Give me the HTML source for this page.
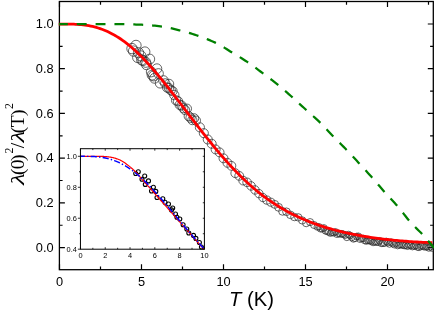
<!DOCTYPE html>
<html><head><meta charset="utf-8"><title>plot</title>
<style>
html,body{margin:0;padding:0;background:#fff;}
body{width:436px;height:312px;overflow:hidden;}
svg{display:block;will-change:transform;}
text{font-family:"Liberation Sans",sans-serif;fill:#000;}
.ser{font-family:"Liberation Serif",serif;}
</style></head><body>
<svg width="436" height="312" viewBox="0 0 436 312">
<rect width="436" height="312" fill="#fff"/>

<defs><clipPath id="cm"><rect x="58.75" y="1.5" width="375.20000000000005" height="268.2"/></clipPath><clipPath id="ci"><rect x="80.45" y="148.7" width="123.95" height="100.5"/></clipPath></defs>
<rect x="59.4" y="1.5" width="373.90000000000003" height="268.2" fill="none" stroke="#000" stroke-width="1.3"/>
<path d="M59.50,269.7 v-5.5 M59.50,1.5 v5.5 M100.50,269.7 v-3.2 M100.50,1.5 v3.2 M141.50,269.7 v-5.5 M141.50,1.5 v5.5 M182.50,269.7 v-3.2 M182.50,1.5 v3.2 M223.50,269.7 v-5.5 M223.50,1.5 v5.5 M264.50,269.7 v-3.2 M264.50,1.5 v3.2 M305.50,269.7 v-5.5 M305.50,1.5 v5.5 M346.50,269.7 v-3.2 M346.50,1.5 v3.2 M387.50,269.7 v-5.5 M387.50,1.5 v5.5 M428.50,269.7 v-3.2 M428.50,1.5 v3.2 M59.4,247.60 h5.5 M433.3,247.60 h-5.5 M59.4,225.24 h3.2 M433.3,225.24 h-3.2 M59.4,202.88 h5.5 M433.3,202.88 h-5.5 M59.4,180.52 h3.2 M433.3,180.52 h-3.2 M59.4,158.16 h5.5 M433.3,158.16 h-5.5 M59.4,135.80 h3.2 M433.3,135.80 h-3.2 M59.4,113.44 h5.5 M433.3,113.44 h-5.5 M59.4,91.08 h3.2 M433.3,91.08 h-3.2 M59.4,68.72 h5.5 M433.3,68.72 h-5.5 M59.4,46.36 h3.2 M433.3,46.36 h-3.2 M59.4,24.00 h5.5 M433.3,24.00 h-5.5" stroke="#000" stroke-width="1.2" fill="none"/>
<g fill="none" stroke="#2a2a2a" stroke-width="0.72" clip-path="url(#cm)">
<circle cx="136.00" cy="45.40" r="5.15"/>
<circle cx="132.00" cy="48.60" r="5.20"/>
<circle cx="144.90" cy="51.90" r="5.04"/>
<circle cx="138.50" cy="52.70" r="5.12"/>
<circle cx="140.90" cy="55.90" r="5.09"/>
<circle cx="149.70" cy="59.10" r="4.98"/>
<circle cx="143.00" cy="60.50" r="5.06"/>
<circle cx="146.50" cy="64.70" r="5.02"/>
<circle cx="156.90" cy="68.70" r="4.89"/>
<circle cx="151.30" cy="71.90" r="4.96"/>
<circle cx="158.50" cy="73.50" r="4.87"/>
<circle cx="153.50" cy="76.00" r="4.93"/>
<circle cx="160.10" cy="83.20" r="4.85"/>
<circle cx="169.00" cy="84.00" r="4.74"/>
<circle cx="133.60" cy="51.10" r="5.18"/>
<circle cx="137.70" cy="57.50" r="5.13"/>
<circle cx="141.70" cy="59.90" r="5.08"/>
<circle cx="145.70" cy="62.30" r="5.03"/>
<circle cx="152.10" cy="75.10" r="4.95"/>
<circle cx="154.50" cy="78.30" r="4.92"/>
<circle cx="163.50" cy="80.50" r="4.81"/>
<circle cx="165.28" cy="83.41" r="4.70"/>
<circle cx="167.08" cy="87.51" r="4.69"/>
<circle cx="168.89" cy="88.06" r="4.68"/>
<circle cx="170.69" cy="90.17" r="4.68"/>
<circle cx="172.50" cy="91.10" r="4.67"/>
<circle cx="174.30" cy="95.07" r="4.66"/>
<circle cx="176.10" cy="100.35" r="4.66"/>
<circle cx="177.91" cy="101.17" r="4.65"/>
<circle cx="179.71" cy="104.83" r="4.64"/>
<circle cx="181.52" cy="105.49" r="4.63"/>
<circle cx="183.32" cy="108.16" r="4.63"/>
<circle cx="185.12" cy="110.08" r="4.62"/>
<circle cx="186.93" cy="108.69" r="4.61"/>
<circle cx="188.73" cy="116.15" r="4.61"/>
<circle cx="190.54" cy="117.80" r="4.60"/>
<circle cx="192.34" cy="120.13" r="4.59"/>
<circle cx="194.14" cy="118.30" r="4.58"/>
<circle cx="195.95" cy="120.60" r="4.58"/>
<circle cx="199.88" cy="127.35" r="4.56"/>
<circle cx="203.82" cy="133.18" r="4.54"/>
<circle cx="207.76" cy="139.47" r="4.53"/>
<circle cx="211.69" cy="143.77" r="4.51"/>
<circle cx="215.63" cy="149.43" r="4.50"/>
<circle cx="219.56" cy="152.36" r="4.48"/>
<circle cx="223.50" cy="158.32" r="4.47"/>
<circle cx="227.44" cy="162.85" r="4.45"/>
<circle cx="231.37" cy="165.83" r="4.43"/>
<circle cx="235.31" cy="173.18" r="4.42"/>
<circle cx="239.24" cy="175.87" r="4.40"/>
<circle cx="243.18" cy="180.65" r="4.36"/>
<circle cx="247.12" cy="182.35" r="4.31"/>
<circle cx="251.05" cy="185.93" r="4.27"/>
<circle cx="254.99" cy="189.95" r="4.22"/>
<circle cx="258.92" cy="193.60" r="4.17"/>
<circle cx="262.86" cy="197.54" r="4.13"/>
<circle cx="266.80" cy="200.09" r="4.08"/>
<circle cx="270.73" cy="202.19" r="4.03"/>
<circle cx="274.67" cy="204.37" r="3.98"/>
<circle cx="278.60" cy="207.33" r="3.94"/>
<circle cx="282.54" cy="211.35" r="3.89"/>
<circle cx="286.48" cy="211.77" r="3.84"/>
<circle cx="290.41" cy="214.85" r="3.80"/>
<circle cx="294.35" cy="217.03" r="3.75"/>
<circle cx="298.28" cy="217.38" r="3.70"/>
<circle cx="302.22" cy="220.44" r="3.65"/>
<circle cx="306.16" cy="223.16" r="3.61"/>
<circle cx="310.09" cy="222.12" r="3.56"/>
<circle cx="314.03" cy="225.00" r="3.51"/>
<circle cx="317.31" cy="226.96" r="3.30"/>
<circle cx="318.95" cy="226.80" r="3.30"/>
<circle cx="320.59" cy="228.83" r="3.30"/>
<circle cx="322.23" cy="228.81" r="3.30"/>
<circle cx="323.87" cy="227.89" r="3.30"/>
<circle cx="325.51" cy="230.89" r="3.30"/>
<circle cx="327.15" cy="231.27" r="3.30"/>
<circle cx="328.79" cy="232.09" r="3.30"/>
<circle cx="330.43" cy="233.12" r="3.30"/>
<circle cx="332.07" cy="232.51" r="3.30"/>
<circle cx="333.71" cy="232.76" r="3.30"/>
<circle cx="335.35" cy="231.80" r="3.30"/>
<circle cx="336.99" cy="234.23" r="3.30"/>
<circle cx="338.63" cy="233.46" r="3.30"/>
<circle cx="340.27" cy="234.07" r="3.30"/>
<circle cx="341.91" cy="233.68" r="3.30"/>
<circle cx="343.55" cy="234.39" r="3.30"/>
<circle cx="345.19" cy="235.21" r="3.30"/>
<circle cx="346.83" cy="237.36" r="3.30"/>
<circle cx="348.47" cy="234.54" r="3.30"/>
<circle cx="350.11" cy="235.47" r="3.30"/>
<circle cx="351.75" cy="237.44" r="3.30"/>
<circle cx="353.39" cy="238.91" r="3.30"/>
<circle cx="355.03" cy="238.44" r="3.30"/>
<circle cx="356.67" cy="236.47" r="3.30"/>
<circle cx="358.31" cy="236.24" r="3.30"/>
<circle cx="359.95" cy="239.19" r="3.30"/>
<circle cx="361.59" cy="238.51" r="3.30"/>
<circle cx="363.23" cy="238.47" r="3.30"/>
<circle cx="364.87" cy="240.63" r="3.30"/>
<circle cx="366.51" cy="241.02" r="3.30"/>
<circle cx="368.15" cy="240.46" r="3.30"/>
<circle cx="369.79" cy="240.81" r="3.30"/>
<circle cx="371.43" cy="241.23" r="3.30"/>
<circle cx="373.07" cy="242.47" r="3.30"/>
<circle cx="374.71" cy="241.89" r="3.30"/>
<circle cx="376.35" cy="242.04" r="3.30"/>
<circle cx="377.99" cy="242.30" r="3.30"/>
<circle cx="379.63" cy="240.79" r="3.30"/>
<circle cx="381.27" cy="243.35" r="3.30"/>
<circle cx="382.91" cy="243.29" r="3.30"/>
<circle cx="384.55" cy="243.16" r="3.30"/>
<circle cx="386.19" cy="241.38" r="3.30"/>
<circle cx="387.83" cy="242.65" r="3.30"/>
<circle cx="389.47" cy="244.00" r="3.30"/>
<circle cx="391.11" cy="242.15" r="3.30"/>
<circle cx="392.75" cy="243.62" r="3.30"/>
<circle cx="394.39" cy="244.74" r="3.30"/>
<circle cx="396.03" cy="243.19" r="3.30"/>
<circle cx="397.67" cy="245.56" r="3.30"/>
<circle cx="399.31" cy="244.96" r="3.30"/>
<circle cx="400.95" cy="244.63" r="3.30"/>
<circle cx="402.59" cy="245.16" r="3.30"/>
<circle cx="404.23" cy="245.56" r="3.30"/>
<circle cx="405.87" cy="245.36" r="3.30"/>
<circle cx="407.51" cy="246.24" r="3.30"/>
<circle cx="409.15" cy="245.14" r="3.30"/>
<circle cx="410.79" cy="245.47" r="3.30"/>
<circle cx="412.43" cy="246.61" r="3.30"/>
<circle cx="414.07" cy="246.07" r="3.30"/>
<circle cx="415.71" cy="245.61" r="3.30"/>
<circle cx="417.35" cy="246.95" r="3.30"/>
<circle cx="418.99" cy="247.41" r="3.30"/>
<circle cx="420.63" cy="246.30" r="3.30"/>
<circle cx="422.27" cy="245.83" r="3.30"/>
<circle cx="423.91" cy="246.74" r="3.30"/>
<circle cx="425.55" cy="246.84" r="3.30"/>
<circle cx="427.19" cy="246.85" r="3.30"/>
<circle cx="428.83" cy="247.99" r="3.30"/>
<circle cx="430.47" cy="246.62" r="3.30"/>
<circle cx="432.11" cy="248.08" r="3.30"/>
</g>
<path d="M58.75,24.03 L60.63,24.04 L62.50,24.04 L64.38,24.04 L66.26,24.05 L68.14,24.07 L70.01,24.10 L71.89,24.14 L73.77,24.20 L75.64,24.28 L77.52,24.39 L79.40,24.52 L81.28,24.69 L83.15,24.89 L85.03,25.13 L86.91,25.40 L88.78,25.72 L90.66,26.08 L92.54,26.48 L94.42,26.94 L96.29,27.44 L98.17,27.99 L100.05,28.60 L101.92,29.26 L103.80,29.97 L105.68,30.74 L107.56,31.57 L109.43,32.46 L111.31,33.40 L113.19,34.40 L115.06,35.47 L116.94,36.59 L118.82,37.77 L120.70,39.02 L122.57,40.32 L124.45,41.69 L126.33,43.11 L128.20,44.59 L130.08,46.13 L131.96,47.73 L133.84,49.38 L135.71,51.09 L137.59,52.86 L139.47,54.68 L141.34,56.54 L143.22,58.46 L145.10,60.43 L146.98,62.44 L148.85,64.50 L150.73,66.60 L152.61,68.74 L154.48,70.91 L156.36,73.12 L158.24,75.37 L160.12,77.64 L161.99,79.94 L163.87,82.26 L165.75,84.61 L167.62,86.98 L169.50,89.37 L171.38,91.78 L173.26,94.20 L175.13,96.63 L177.01,99.07 L178.89,101.52 L180.76,103.98 L182.64,106.44 L184.52,108.91 L186.40,111.37 L188.27,113.84 L190.15,116.30 L192.03,118.76 L193.90,121.21 L195.78,123.65 L197.66,126.09 L199.54,128.51 L201.41,130.92 L203.29,133.32 L205.17,135.70 L207.04,138.06 L208.92,140.41 L210.80,142.74 L212.68,145.04 L214.55,147.33 L216.43,149.59 L218.31,151.83 L220.18,154.04 L222.06,156.22 L223.94,158.38 L225.82,160.51 L227.69,162.61 L229.57,164.68 L231.45,166.71 L233.32,168.72 L235.20,170.69 L237.08,172.62 L238.96,174.53 L240.83,176.40 L242.71,178.23 L244.59,180.03 L246.46,181.79 L248.34,183.51 L250.22,185.20 L252.09,186.86 L253.97,188.47 L255.85,190.05 L257.73,191.60 L259.60,193.11 L261.48,194.58 L263.36,196.02 L265.23,197.42 L267.11,198.78 L268.99,200.12 L270.87,201.42 L272.74,202.68 L274.62,203.92 L276.50,205.12 L278.37,206.29 L280.25,207.44 L282.13,208.55 L284.01,209.63 L285.88,210.69 L287.76,211.71 L289.64,212.71 L291.51,213.69 L293.39,214.63 L295.27,215.55 L297.15,216.45 L299.02,217.32 L300.90,218.17 L302.78,219.00 L304.65,219.80 L306.53,220.58 L308.41,221.34 L310.29,222.08 L312.16,222.80 L314.04,223.50 L315.92,224.18 L317.79,224.84 L319.67,225.48 L321.55,226.10 L323.43,226.70 L325.30,227.29 L327.18,227.86 L329.06,228.42 L330.93,228.96 L332.81,229.48 L334.69,229.99 L336.57,230.49 L338.44,230.97 L340.32,231.43 L342.20,231.89 L344.07,232.33 L345.95,232.75 L347.83,233.17 L349.71,233.57 L351.58,233.96 L353.46,234.34 L355.34,234.71 L357.21,235.06 L359.09,235.41 L360.97,235.75 L362.85,236.07 L364.72,236.39 L366.60,236.70 L368.48,236.99 L370.35,237.28 L372.23,237.56 L374.11,237.83 L375.99,238.09 L377.86,238.35 L379.74,238.60 L381.62,238.83 L383.49,239.06 L385.37,239.29 L387.25,239.50 L389.13,239.71 L391.00,239.91 L392.88,240.10 L394.76,240.29 L396.63,240.47 L398.51,240.64 L400.39,240.81 L402.27,240.97 L404.14,241.12 L406.02,241.27 L407.90,241.41 L409.77,241.54 L411.65,241.67 L413.53,241.79 L415.41,241.90 L417.28,242.01 L419.16,242.11 L421.04,242.20 L422.91,242.29 L424.79,242.37 L426.67,242.44 L428.55,242.51 L430.42,242.57 L432.30,242.62" fill="none" stroke="#ff0000" stroke-width="2.8" stroke-linejoin="round"/>
<path d="M58.75,24.00 L60.64,24.00 L62.52,24.00 L64.41,24.00 L66.29,24.00 L68.18,24.00 L70.06,24.00 L71.95,24.00 L73.83,24.00 L75.72,24.00 L77.60,24.00 L79.49,24.00 L81.37,24.00 L83.26,24.00 L85.14,24.00 L87.03,24.00 L88.91,24.00 L90.80,24.00 L92.68,24.00 L94.57,24.00 L96.45,24.00 L98.34,24.00 L100.22,24.00 L102.11,24.00 L103.99,24.01 L105.88,24.02 L107.76,24.03 L109.65,24.05 L111.53,24.07 L113.42,24.09 L115.31,24.12 L117.19,24.14 L119.08,24.17 L120.96,24.20 L122.85,24.22 L124.73,24.25 L126.62,24.28 L128.50,24.32 L130.39,24.36 L132.27,24.40 L134.16,24.45 L136.04,24.51 L137.93,24.57 L139.81,24.63 L141.70,24.71 L143.58,24.79 L145.47,24.89 L147.35,25.01 L149.24,25.16 L151.12,25.32 L153.01,25.51 L154.89,25.71 L156.78,25.92 L158.66,26.14 L160.55,26.38 L162.43,26.63 L164.32,26.92 L166.21,27.25 L168.09,27.62 L169.98,28.02 L171.86,28.44 L173.75,28.89 L175.63,29.35 L177.52,29.82 L179.40,30.29 L181.29,30.76 L183.17,31.26 L185.06,31.77 L186.94,32.31 L188.83,32.87 L190.71,33.45 L192.60,34.04 L194.48,34.65 L196.37,35.28 L198.25,35.92 L200.14,36.58 L202.02,37.25 L203.91,37.94 L205.79,38.66 L207.68,39.39 L209.56,40.16 L211.45,40.95 L213.33,41.78 L215.22,42.64 L217.10,43.55 L218.99,44.53 L220.88,45.59 L222.76,46.71 L224.65,47.87 L226.53,49.06 L228.42,50.25 L230.30,51.42 L232.19,52.57 L234.07,53.70 L235.96,54.83 L237.84,55.97 L239.73,57.12 L241.61,58.28 L243.50,59.47 L245.38,60.68 L247.27,61.93 L249.15,63.22 L251.04,64.54 L252.92,65.89 L254.81,67.27 L256.69,68.66 L258.58,70.07 L260.46,71.48 L262.35,72.89 L264.23,74.29 L266.12,75.70 L268.00,77.12 L269.89,78.54 L271.77,79.98 L273.66,81.44 L275.55,82.93 L277.43,84.44 L279.32,85.99 L281.20,87.57 L283.09,89.18 L284.97,90.81 L286.86,92.45 L288.74,94.11 L290.63,95.78 L292.51,97.45 L294.40,99.14 L296.28,100.85 L298.17,102.58 L300.05,104.31 L301.94,106.05 L303.82,107.78 L305.71,109.51 L307.59,111.21 L309.48,112.90 L311.36,114.57 L313.25,116.24 L315.13,117.94 L317.02,119.66 L318.90,121.44 L320.79,123.28 L322.67,125.21 L324.56,127.20 L326.44,129.23 L328.33,131.28 L330.22,133.32 L332.10,135.32 L333.99,137.26 L335.87,139.15 L337.76,141.02 L339.64,142.88 L341.53,144.74 L343.41,146.61 L345.30,148.52 L347.18,150.47 L349.07,152.46 L350.95,154.47 L352.84,156.50 L354.72,158.55 L356.61,160.60 L358.49,162.66 L360.38,164.70 L362.26,166.75 L364.15,168.79 L366.03,170.84 L367.92,172.91 L369.80,174.99 L371.69,177.09 L373.57,179.22 L375.46,181.39 L377.34,183.60 L379.23,185.82 L381.12,188.03 L383.00,190.22 L384.89,192.37 L386.77,194.47 L388.66,196.51 L390.54,198.53 L392.43,200.54 L394.31,202.58 L396.20,204.66 L398.08,206.80 L399.97,209.06 L401.85,211.43 L403.74,213.86 L405.62,216.30 L407.51,218.68 L409.39,220.96 L411.28,223.08 L413.16,225.08 L415.05,226.99 L416.93,228.84 L418.82,230.69 L420.70,232.56 L422.59,234.51 L424.47,236.56 L426.36,238.70 L428.24,240.91 L430.13,243.19 L432.01,245.52 L433.90,247.90" clip-path="url(#cm)" fill="none" stroke="#008000" stroke-width="2.25" stroke-dasharray="9.9 8.95" stroke-dashoffset="0.85"/>
<text x="59.5" y="285.8" font-size="12.8" text-anchor="middle">0</text>
<text x="141.5" y="285.8" font-size="12.8" text-anchor="middle">5</text>
<text x="223.5" y="285.8" font-size="12.8" text-anchor="middle">10</text>
<text x="305.5" y="285.8" font-size="12.8" text-anchor="middle">15</text>
<text x="387.5" y="285.8" font-size="12.8" text-anchor="middle">20</text>
<text x="53.6" y="251.7" font-size="12.8" text-anchor="end">0.0</text>
<text x="53.6" y="207.0" font-size="12.8" text-anchor="end">0.2</text>
<text x="53.6" y="162.3" font-size="12.8" text-anchor="end">0.4</text>
<text x="53.6" y="117.5" font-size="12.8" text-anchor="end">0.6</text>
<text x="53.6" y="72.8" font-size="12.8" text-anchor="end">0.8</text>
<text x="53.6" y="28.1" font-size="12.8" text-anchor="end">1.0</text>
<text x="229" y="306.3" font-size="20.2"><tspan font-style="italic">T</tspan> (K)</text>
<g class="ser" transform="translate(24,186.5) rotate(-90)" font-size="19.5">
<text class="ser" transform="translate(1.4,0) scale(1.4,1)" font-style="italic" x="0" y="0">&#955;</text>
<text class="ser" x="11.4" y="0">(</text>
<text class="ser" x="17.2" y="0">0</text>
<text class="ser" x="25.6" y="0">)</text>
<text class="ser" x="38.3" y="0">/</text>
<text class="ser" x="53.2" y="0">(</text>
<text class="ser" x="59.15" y="0">T</text>
<text class="ser" x="70.5" y="0">)</text>
<text class="ser" transform="translate(44.0,0) scale(1.4,1)" font-style="italic" x="0" y="0">&#955;</text>
<text class="ser" x="33.0" y="-11" font-size="11.8">2</text><text class="ser" x="77.5" y="-11" font-size="11.8">2</text>
</g>
<rect x="80.45" y="148.7" width="123.95" height="100.5" fill="#fff"/>
<g fill="none" stroke="#000" stroke-width="1.1">
<circle cx="138.30" cy="171.80" r="2.0"/>
<circle cx="135.70" cy="173.50" r="2.0"/>
<circle cx="144.70" cy="176.00" r="2.0"/>
<circle cx="142.00" cy="179.20" r="2.0"/>
<circle cx="148.50" cy="180.90" r="2.0"/>
<circle cx="145.30" cy="184.40" r="2.0"/>
<circle cx="153.40" cy="187.30" r="2.0"/>
<circle cx="151.50" cy="191.00" r="2.0"/>
<circle cx="155.80" cy="191.40" r="2.0"/>
<circle cx="157.00" cy="197.50" r="2.0"/>
<circle cx="162.80" cy="198.80" r="2.0"/>
<circle cx="165.00" cy="202.20" r="2.0"/>
<circle cx="168.50" cy="204.00" r="2.0"/>
<circle cx="172.70" cy="208.00" r="2.0"/>
<circle cx="171.50" cy="209.90" r="2.0"/>
<circle cx="175.50" cy="214.00" r="2.0"/>
<circle cx="176.90" cy="217.30" r="2.0"/>
<circle cx="179.80" cy="219.00" r="2.0"/>
<circle cx="183.10" cy="224.70" r="2.0"/>
<circle cx="186.80" cy="229.00" r="2.0"/>
<circle cx="188.80" cy="233.00" r="2.0"/>
<circle cx="193.50" cy="235.40" r="2.0"/>
<circle cx="195.90" cy="238.40" r="2.0"/>
<circle cx="199.40" cy="242.50" r="2.0"/>
<circle cx="201.40" cy="247.00" r="2.0"/>
</g>
<g clip-path="url(#ci)"><path d="M80.45,156.30 L81.08,156.30 L81.71,156.30 L82.34,156.30 L82.96,156.30 L83.59,156.30 L84.22,156.30 L84.85,156.30 L85.48,156.30 L86.11,156.30 L86.73,156.30 L87.36,156.30 L87.99,156.30 L88.62,156.30 L89.25,156.30 L89.88,156.30 L90.50,156.30 L91.13,156.30 L91.76,156.30 L92.39,156.30 L93.02,156.30 L93.65,156.30 L94.27,156.30 L94.90,156.30 L95.53,156.30 L96.16,156.30 L96.79,156.31 L97.42,156.31 L98.04,156.32 L98.67,156.33 L99.30,156.34 L99.93,156.35 L100.56,156.36 L101.19,156.37 L101.82,156.39 L102.44,156.41 L103.07,156.43 L103.70,156.46 L104.33,156.49 L104.96,156.52 L105.59,156.56 L106.21,156.61 L106.84,156.67 L107.47,156.74 L108.10,156.82 L108.73,156.90 L109.36,156.99 L109.98,157.09 L110.61,157.19 L111.24,157.29 L111.87,157.40 L112.50,157.53 L113.13,157.68 L113.75,157.83 L114.38,158.01 L115.01,158.19 L115.64,158.39 L116.27,158.59 L116.90,158.81 L117.53,159.03 L118.15,159.26 L118.78,159.51 L119.41,159.78 L120.04,160.08 L120.67,160.40 L121.30,160.73 L121.92,161.08 L122.55,161.44 L123.18,161.81 L123.81,162.20 L124.44,162.61 L125.07,163.05 L125.69,163.50 L126.32,163.96 L126.95,164.43 L127.58,164.91 L128.21,165.39 L128.84,165.88 L129.46,166.38 L130.09,166.89 L130.72,167.41 L131.35,167.94 L131.98,168.49 L132.61,169.04 L133.23,169.61 L133.86,170.20 L134.49,170.80 L135.12,171.41 L135.75,172.05 L136.38,172.70 L137.01,173.38 L137.63,174.08 L138.26,174.83 L138.89,175.62 L139.52,176.42 L140.15,177.21 L140.78,177.97 L141.40,178.70 L142.03,179.40 L142.66,180.10 L143.29,180.78 L143.92,181.46 L144.55,182.13 L145.17,182.81 L145.80,183.48 L146.43,184.17 L147.06,184.87 L147.69,185.57 L148.32,186.28 L148.94,187.00 L149.57,187.71 L150.20,188.43 L150.83,189.14 L151.46,189.86 L152.09,190.58 L152.72,191.29 L153.34,192.01 L153.97,192.72 L154.60,193.44 L155.23,194.15 L155.86,194.86 L156.49,195.58 L157.11,196.29 L157.74,197.00 L158.37,197.71 L159.00,198.42 L159.63,199.13 L160.26,199.84 L160.88,200.55 L161.51,201.26 L162.14,201.96 L162.77,202.67 L163.40,203.38 L164.03,204.08 L164.65,204.79 L165.28,205.49 L165.91,206.20 L166.54,206.90 L167.17,207.61 L167.80,208.32 L168.42,209.02 L169.05,209.73 L169.68,210.44 L170.31,211.15 L170.94,211.86 L171.57,212.57 L172.20,213.28 L172.82,213.99 L173.45,214.70 L174.08,215.42 L174.71,216.13 L175.34,216.84 L175.97,217.55 L176.59,218.26 L177.22,218.98 L177.85,219.69 L178.48,220.40 L179.11,221.12 L179.74,221.83 L180.36,222.54 L180.99,223.26 L181.62,223.97 L182.25,224.68 L182.88,225.39 L183.51,226.11 L184.13,226.82 L184.76,227.53 L185.39,228.24 L186.02,228.96 L186.65,229.67 L187.28,230.38 L187.91,231.09 L188.53,231.80 L189.16,232.51 L189.79,233.23 L190.42,233.94 L191.05,234.65 L191.68,235.36 L192.30,236.07 L192.93,236.78 L193.56,237.49 L194.19,238.21 L194.82,238.92 L195.45,239.63 L196.07,240.34 L196.70,241.05 L197.33,241.76 L197.96,242.48 L198.59,243.19 L199.22,243.90 L199.84,244.61 L200.47,245.33 L201.10,246.04 L201.73,246.75 L202.36,247.46 L202.99,248.18 L203.61,248.89 L204.24,249.60 L204.87,250.32 L205.50,251.03" fill="none" stroke="#ff0000" stroke-width="1.2"/>
<path d="M80.45,156.32 L81.08,156.32 L81.71,156.33 L82.34,156.33 L82.97,156.33 L83.60,156.33 L84.22,156.33 L84.85,156.33 L85.48,156.34 L86.11,156.34 L86.74,156.35 L87.37,156.35 L88.00,156.36 L88.63,156.37 L89.26,156.38 L89.89,156.40 L90.52,156.41 L91.14,156.43 L91.77,156.46 L92.40,156.48 L93.03,156.51 L93.66,156.55 L94.29,156.58 L94.92,156.62 L95.55,156.67 L96.18,156.72 L96.81,156.77 L97.44,156.83 L98.06,156.89 L98.69,156.96 L99.32,157.03 L99.95,157.11 L100.58,157.19 L101.21,157.28 L101.84,157.37 L102.47,157.47 L103.10,157.58 L103.73,157.69 L104.36,157.81 L104.98,157.93 L105.61,158.06 L106.24,158.20 L106.87,158.34 L107.50,158.49 L108.13,158.65 L108.76,158.81 L109.39,158.98 L110.02,159.16 L110.65,159.35 L111.28,159.54 L111.90,159.74 L112.53,159.95 L113.16,160.16 L113.79,160.38 L114.42,160.61 L115.05,160.85 L115.68,161.10 L116.31,161.35 L116.94,161.61 L117.57,161.88 L118.20,162.16 L118.82,162.44 L119.45,162.74 L120.08,163.04 L120.71,163.35 L121.34,163.66 L121.97,163.99 L122.60,164.32 L123.23,164.66 L123.86,165.01 L124.49,165.37 L125.12,165.74 L125.74,166.11 L126.37,166.50 L127.00,166.89 L127.63,167.29 L128.26,167.69 L128.89,168.11 L129.52,168.53 L130.15,168.96 L130.78,169.40 L131.41,169.85 L132.04,170.31 L132.66,170.77 L133.29,171.24 L133.92,171.72 L134.55,172.21 L135.18,172.71 L135.81,173.21 L136.44,173.72 L137.07,174.24 L137.70,174.76 L138.33,175.30 L138.96,175.84 L139.58,176.38 L140.21,176.94 L140.84,177.50 L141.47,178.07 L142.10,178.65 L142.73,179.23 L143.36,179.82 L143.99,180.41 L144.62,181.02 L145.25,181.62 L145.88,182.24 L146.50,182.86 L147.13,183.49 L147.76,184.12 L148.39,184.76 L149.02,185.40 L149.65,186.06 L150.28,186.71 L150.91,187.37 L151.54,188.04 L152.17,188.71 L152.80,189.38 L153.42,190.06 L154.05,190.75 L154.68,191.44 L155.31,192.13 L155.94,192.83 L156.57,193.53 L157.20,194.23 L157.83,194.94 L158.46,195.65 L159.09,196.37 L159.72,197.08 L160.34,197.80 L160.97,198.53 L161.60,199.26 L162.23,199.99 L162.86,200.72 L163.49,201.45 L164.12,202.19 L164.75,202.93 L165.38,203.67 L166.01,204.41 L166.64,205.16 L167.26,205.90 L167.89,206.65 L168.52,207.40 L169.15,208.15 L169.78,208.90 L170.41,209.65 L171.04,210.41 L171.67,211.16 L172.30,211.92 L172.93,212.67 L173.56,213.43 L174.18,214.19 L174.81,214.94 L175.44,215.70 L176.07,216.46 L176.70,217.21 L177.33,217.97 L177.96,218.73 L178.59,219.48 L179.22,220.24 L179.85,220.99 L180.48,221.75 L181.10,222.50 L181.73,223.25 L182.36,224.01 L182.99,224.76 L183.62,225.51 L184.25,226.25 L184.88,227.00 L185.51,227.75 L186.14,228.49 L186.77,229.23 L187.40,229.97 L188.02,230.71 L188.65,231.45 L189.28,232.18 L189.91,232.91 L190.54,233.64 L191.17,234.37 L191.80,235.09 L192.43,235.82 L193.06,236.54 L193.69,237.26 L194.32,237.97 L194.94,238.68 L195.57,239.39 L196.20,240.10 L196.83,240.80 L197.46,241.50 L198.09,242.20 L198.72,242.89 L199.35,243.58 L199.98,244.27 L200.61,244.96 L201.24,245.64 L201.86,246.31 L202.49,246.99 L203.12,247.66 L203.75,248.32 L204.38,248.98 L205.01,249.64 L205.64,250.30" fill="none" stroke="#0000ff" stroke-width="1.45" stroke-dasharray="6.2 2.2 1.4 2.2" stroke-dashoffset="1.8"/></g>
<rect x="80.45" y="148.7" width="123.95" height="100.5" fill="none" stroke="#000" stroke-width="1"/>
<path d="M80.45,249.2 v-2.0 M80.45,148.7 v2.0 M92.84,249.2 v-1.4 M92.84,148.7 v1.4 M105.24,249.2 v-2.0 M105.24,148.7 v2.0 M117.64,249.2 v-1.4 M117.64,148.7 v1.4 M130.03,249.2 v-2.0 M130.03,148.7 v2.0 M142.43,249.2 v-1.4 M142.43,148.7 v1.4 M154.82,249.2 v-2.0 M154.82,148.7 v2.0 M167.22,249.2 v-1.4 M167.22,148.7 v1.4 M179.61,249.2 v-2.0 M179.61,148.7 v2.0 M192.00,249.2 v-1.4 M192.00,148.7 v1.4 M204.40,249.2 v-2.0 M204.40,148.7 v2.0 M80.45,249.20 h-2.6 M204.4,249.20 h-1.6 M80.45,233.72 h-1.4 M204.4,233.72 h-1.6 M80.45,218.23 h-2.6 M204.4,218.23 h-1.6 M80.45,202.75 h-1.4 M204.4,202.75 h-1.6 M80.45,187.27 h-2.6 M204.4,187.27 h-1.6 M80.45,171.78 h-1.4 M204.4,171.78 h-1.6 M80.45,156.30 h-2.6 M204.4,156.30 h-1.6" stroke="#000" stroke-width="0.8" fill="none"/>
<text x="80.5" y="258.2" font-size="7.4" text-anchor="middle">0</text>
<text x="105.2" y="258.2" font-size="7.4" text-anchor="middle">2</text>
<text x="130.0" y="258.2" font-size="7.4" text-anchor="middle">4</text>
<text x="154.8" y="258.2" font-size="7.4" text-anchor="middle">6</text>
<text x="179.6" y="258.2" font-size="7.4" text-anchor="middle">8</text>
<text x="204.4" y="258.2" font-size="7.4" text-anchor="middle">10</text>
<text x="76.9" y="251.9" font-size="7.4" text-anchor="end">0.4</text>
<text x="76.9" y="220.9" font-size="7.4" text-anchor="end">0.6</text>
<text x="76.9" y="190.0" font-size="7.4" text-anchor="end">0.8</text>
<text x="76.9" y="159.0" font-size="7.4" text-anchor="end">1.0</text>
</svg></body></html>
